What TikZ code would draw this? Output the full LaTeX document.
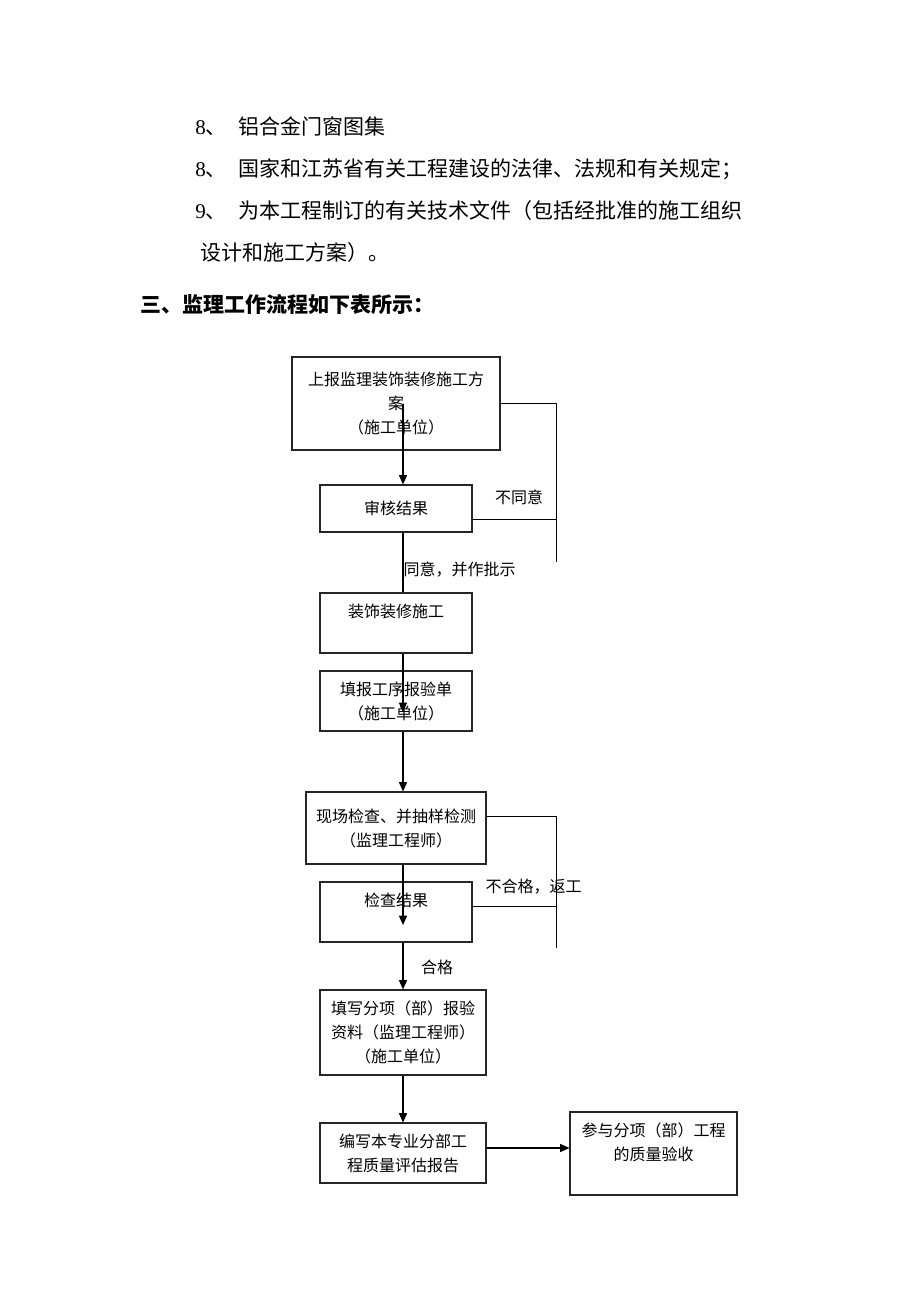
\documentclass[tikz,border=0pt]{standalone}
\usepackage{fontspec}
\setmainfont{Noto Sans CJK SC}
\newfontfamily\numfont{Liberation Serif}
\usetikzlibrary{arrows.meta}

\begin{document}
\begin{tikzpicture}[
        x=0.75pt, y=-0.75pt,
        stepbox/.style={rectangle, draw=black!85, line width=0.8pt, align=center, inner sep=0pt,
                        font=\fontsize{12pt}{18pt}\selectfont},
        note/.style={inner sep=0pt, font=\fontsize{12pt}{18pt}\selectfont},
        bodytext/.style={anchor=west, inner sep=0pt, font=\fontsize{15.75pt}{20pt}\selectfont},
        mainline/.style={line width=1.1pt},
        flow/.style={mainline, -{Triangle[length=7pt,width=6pt]}},
        back/.style={line width=0.75pt},
        ]
        \useasboundingbox (0,0) rectangle (920,1302);

        % Text above
        \node[bodytext] (item8a) at (195,126) {{\numfont 8}、\hspace{8.6pt}铝合金门窗图集};
        \node[bodytext] (item8b) at (195,169) {{\numfont 8}、\hspace{8.6pt}国家和江苏省有关工程建设的法律、法规和有关规定；};
        \node[bodytext] (item9) at (195,211) {{\numfont 9}、\hspace{8.6pt}为本工程制订的有关技术文件（包括经批准的施工组织};
        \node[bodytext] (item9b) at (200,253) {设计和施工方案）。};
        \node[bodytext] (title) at (140,305) {\bfseries 三、监理工作流程如下表所示：};

        % Boxes
        \node[stepbox, minimum width=156pt, minimum height=69.75pt] (report) at (396,403.5)
            {上报监理装饰装修施工方\\案\\（施工单位）};
        \node[stepbox, minimum width=114pt, minimum height=35.25pt] (review) at (396,508.5) {审核结果};
        \node[stepbox, minimum width=114pt, minimum height=45pt] (decor) at (396,623) {装饰装修施工\\\mbox{}};
        \node[stepbox, minimum width=114pt, minimum height=45pt] (procform) at (396,701)
            {填报工序报验单\\（施工单位）};
        \node[stepbox, minimum width=135pt, minimum height=54pt] (inspect) at (396,828)
            {现场检查、并抽样检测\\（监理工程师）};
        \node[stepbox, minimum width=114pt, minimum height=45pt] (result) at (396,912) {检查结果\\\mbox{}};
        \node[stepbox, minimum width=124.5pt, minimum height=63.75pt] (itemdata) at (403,1032.5)
            {填写分项（部）报验\\资料（监理工程师）\\（施工单位）};
        \node[stepbox, minimum width=124.5pt, minimum height=45pt] (evalrep) at (403,1153)
            {编写本专业分部工\\程质量评估报告};
        \node[stepbox, minimum width=125.25pt, minimum height=62.25pt] (accept) at (653.5,1153.5)
            {参与分项（部）工程\\的质量验收\\\mbox{}};

        % Main flow
        \draw[flow] (report.center -| itemdata) -- (review.north -| itemdata);
        \draw[mainline] (review.south -| itemdata) -- node[note, right, pos=0.62] (agree) {同意，并作批示} (decor.north -| itemdata);
        \draw[flow] (decor.south -| itemdata) -- ([yshift=-8.25pt]procform.center -| itemdata);
        \draw[flow] (procform.south -| itemdata) -- (inspect.north -| itemdata);
        \draw[flow] (inspect.south -| itemdata) -- ([yshift=-9.75pt]result.center -| itemdata);
        \draw[flow] (result.south -| itemdata) -- node[note, right=13pt, pos=0.54] (pass) {合格} (itemdata.north);
        \draw[flow] (itemdata.south) -- (evalrep.north);
        \draw[flow] ([yshift=3.75pt]evalrep.east) -- ([yshift=3.75pt]evalrep.east -| accept.west);

        % Not approved
        \coordinate (loop1) at (556,562);
        \draw[back] (report.east) -| (loop1);
        \draw[back] ([yshift=-8.6pt]review.east) -- ([yshift=-8.6pt]review.east -| loop1);
        \node[note] (disagree) at (519,497) {不同意};

        % Rework
        \coordinate (loop2) at (556,948);
        \draw[back] ([yshift=9pt]inspect.east) -| (loop2);
        \draw[back] ([yshift=4.5pt]result.east) -- ([yshift=4.5pt]result.east -| loop2);
        \node[note] (rework) at (533.5,887) {不合格，返工};

    \end{tikzpicture}
\end{document}
